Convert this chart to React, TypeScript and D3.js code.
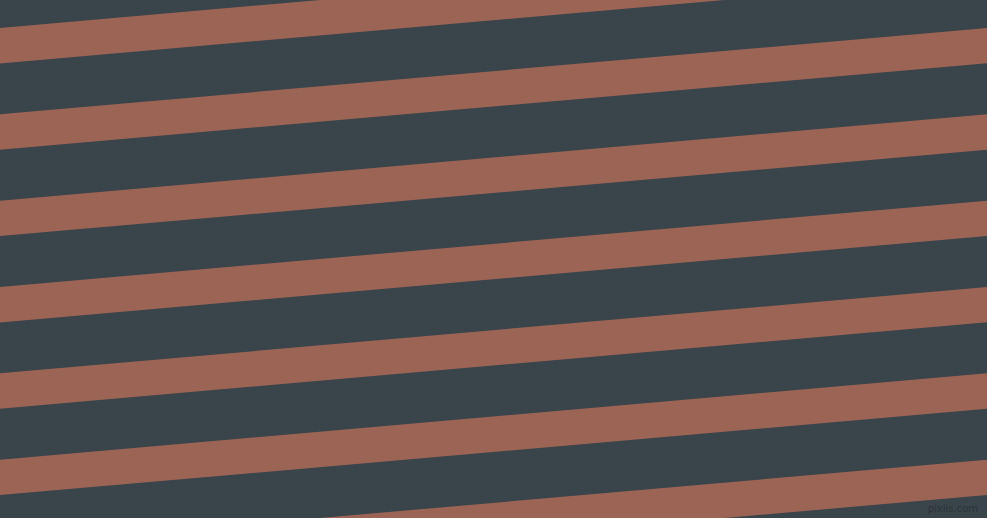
import React from "react";
import * as d3 from "d3";

const WIDTH = 987;
const HEIGHT = 518;

// Top edge of each terracotta stripe where it meets the left edge (px)
const stripeTops: number[] = [-58.3, 28, 114.3, 200.7, 287, 373.3, 459.7, 546];
// Vertical thickness of a terracotta stripe
const stripeThickness: number[] = [35.4];
// Stripe angle (degrees, rising to the right)
const stripeAngle: number[] = [5];
const colors: string[] = ["#3a444b", "#9c6455"];
const watermark: string[] = ["pixlis.com"];

export default function App() {
  const x = d3.scaleLinear().domain([0, WIDTH]).range([0, WIDTH]);
  const slope = Math.tan((stripeAngle[0] * Math.PI) / 180);
  const xs = [-20, WIDTH + 20];

  const area = (top: number) =>
    d3
      .area<number>()
      .x((d) => x(d))
      .y0((d) => top - slope * d)
      .y1((d) => top - slope * d + stripeThickness[0])(xs) as string;

  return (
    <svg
      width={WIDTH}
      height={HEIGHT}
      style={{ position: "fixed", left: 0, top: 0, display: "block" }}
    >
      <rect x={0} y={0} width={WIDTH} height={HEIGHT} fill={colors[0]} />
      {stripeTops.map((t, i) => (
        <path key={i} d={area(t)} fill={colors[1]} />
      ))}
      <text
        x={978}
        y={512}
        textAnchor="end"
        fontFamily="DejaVu Sans, sans-serif"
        fontSize={10}
        fill="#2c3338"
      >
        {watermark[0]}
      </text>
    </svg>
  );
}
